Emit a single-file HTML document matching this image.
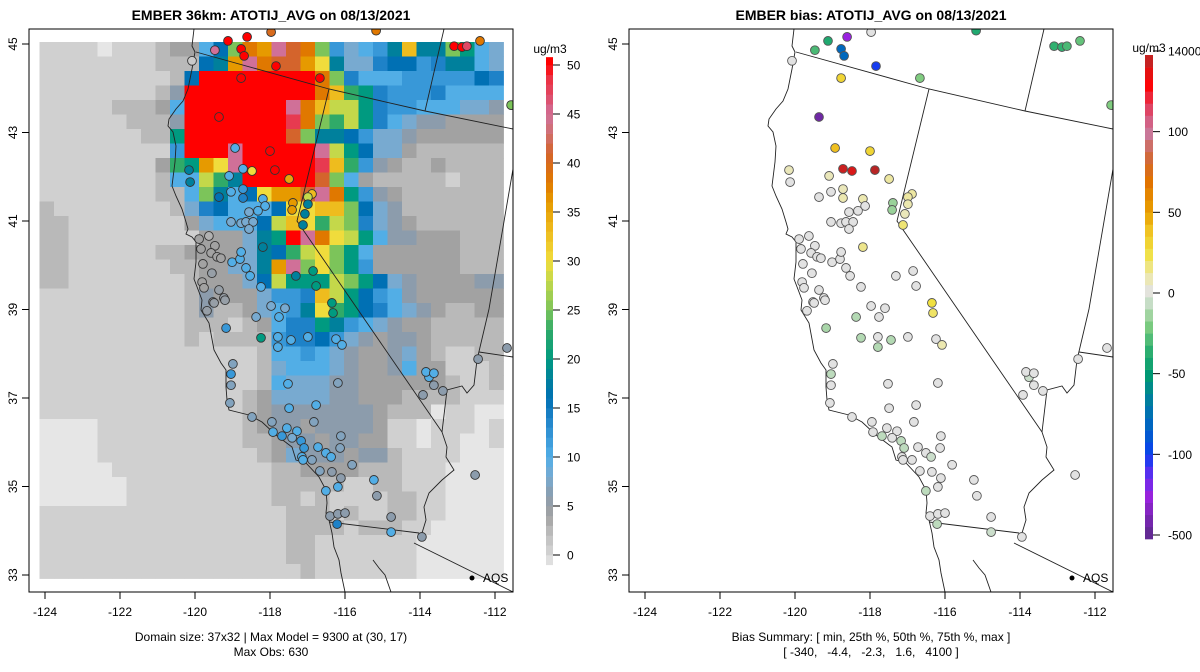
<!DOCTYPE html>
<html><head><meta charset="utf-8"><title>EMBER ATOTIJ_AVG</title>
<style>
html,body{margin:0;padding:0;background:#fff;}
svg{display:block;font-family:"Liberation Sans",Arial,sans-serif;}
</style></head>
<body>
<svg id="chart" width="1200" height="672" viewBox="0 0 1200 672" xmlns="http://www.w3.org/2000/svg">
<defs>
<clipPath id="clipL"><rect x="29" y="29" width="484" height="563"/></clipPath>
<clipPath id="clipR"><rect x="629" y="29" width="484" height="563"/></clipPath>
</defs>
<rect width="1200" height="672" fill="#fff"/>
<g id="left"></g>
<g id="right"></g>
<g id="axes"></g>
<g id="cbars"></g>
<text x="271" y="20" text-anchor="middle" font-size="14" font-weight="bold">EMBER 36km: ATOTIJ_AVG on 08/13/2021</text>
<text x="871" y="20" text-anchor="middle" font-size="14" font-weight="bold">EMBER bias: ATOTIJ_AVG on 08/13/2021</text>
<text x="271" y="641" text-anchor="middle" font-size="12">Domain size: 37x32 | Max Model = 9300 at (30, 17)</text>
<text x="271" y="656" text-anchor="middle" font-size="12">Max Obs: 630</text>
<text x="871" y="641" text-anchor="middle" font-size="12">Bias Summary: [ min, 25th %, 50th %, 75th %, max ]</text>
<text x="871" y="656" text-anchor="middle" font-size="12" xml:space="preserve" style="white-space:pre">[ -340,   -4.4,   -2.3,   1.6,   4100 ]</text>
</svg>
<script>
// ---- data ----
const gridLevels = {a:-1,b:0.5,c:2.5,d:4,e:6,f:8,g:10,h:12,i:14,j:16,k:18,l:20,m:23,n:25,o:28,p:30,q:33,r:36,s:38,t:41,u:45,v:48,w:51};
const gridRows = [
"bbbbabbbcddgjnsrutsnhfghkqkknlgf",
"bbbbbbbbcccjkrusttrpkffijjhikkgf",
"bbbbbbbbbcjwwwwwwwwsniggghhhhhjif",
"bbbbbbbbcewwwwwwwwwsqmlihhhigggg",
"bbbbbcccdgwwwwwwwusqoolihhgggffe",
"bbbbbbcccewwwwwwwvsnmoligfeedddd",
"bbbbbbbcclwwwwwwwtnkkjhffedddddd",
"bbbbbbbbbhwwwuwwwwwuoljffdcccccc",
"bbbbbbbbdmlrpuwwwwwvqmhedccdcccc",
"bbbbbbbbcggomkwwwwwtngdcccccbccc",
"bbbbbbbbccgnkgjprrtuslhedccccccc",
"cbbbbbbbbcfijgggjppqqnjfeccccccc",
"ccbbbbbbbbdfgggjoqpmonifedcccccc",
"ccbbbbbbbbbdddfklwuspolgeedddccc",
"ccbbbbbbccddddfkjmopnlgddddddcccc",
"ccbbbbbbbccddffkrunpnlhddddddccc",
"ccbbbbbbbbcdddfjolllonljfeddddee",
"bbbbbbbbbbcedddfhhiqoljhgedddddde",
"bbbbbbbbbbceccdfghkpmljigfedccdd",
"bbbbbbbbbbcccbcdgiilkhgfeddccccc",
"bbbbbbbbbbcbcccchiijhfedeedccccc",
"bbbbbbbbbbbbbbbcgghgfeddefdcbbcc",
"bbbbbbbbbbbbbbbcfgggfeddegddbbbc",
"bbbbbbbbbbbbbbbcgfffeeddddddcbbc",
"bbbbbbbbbbbbbbcdffffeedddccccbbb",
"bbbbbbbbbbbbbbcdeeeeeeedcccabbaa",
"aaaabbbbbbbbbbcdeedeeeedbbabbbab",
"aaaabbbbbbbbbbccdeedeeddbbabbaab",
"aaaabbbbbbbbbbbcdfeeedeecbbbbaaa",
"aaaaabbbbbbbbbbbccddddcccbbbaaaa",
"aaaaaabbbbbbbbbbcccccbbccbbbaaaa",
"aaaaaabbbbbbbbbbccbcbbbbccbbaaaa",
"bbbbbbbbbbbbbbbbbcccbcbbccbbaaaa",
"bbbbbbbbbbbbbbbbbccccbcccbbaaaaa",
"bbbbbbbbbbbbbbbbbccbbbbbbbaaaaaa",
"bbbbbbbbbbbbbbbbbccbbbbbbbaaaaaa",
"bbbbbbbbbbbbbbbbbbcbbbbbbbaaaaaa"
];
const stLon = [-118.61,-117.97,-119.12,-119.47,-118.77,-118.69,-117.84,-120.08,-116.67,-118.77,-115.17,-113.09,-112.88,-112.75,-112.40,-111.57,-119.36,-118.93,-118.00,-118.72,-118.48,-117.87,-120.16,-120.13,-119.09,-117.49,-119.36,-119.04,-118.72,-118.72,-118.19,-118.13,-118.32,-118.56,-119.04,-118.77,-118.64,-118.45,-118.56,-117.39,-117.41,-116.88,-116.99,-116.99,-117.07,-117.12,-119.89,-119.63,-119.84,-119.47,-119.57,-119.41,-119.31,-119.79,-119.55,-119.81,-119.76,-119.36,-119.23,-119.52,-119.01,-118.80,-118.77,-118.19,-118.64,-118.53,-118.24,-117.97,-117.60,-117.31,-116.85,-116.77,-116.35,-119.68,-119.49,-119.20,-117.76,-116.32,-118.37,-119.17,-118.24,-117.79,-117.44,-117.79,-116.99,-116.24,-116.08,-118.99,-119.04,-119.04,-119.07,-117.52,-116.19,-116.77,-117.49,-116.83,-118.48,-117.95,-117.92,-117.55,-117.28,-117.68,-117.41,-117.17,-117.09,-117.15,-117.12,-116.88,-116.72,-116.51,-116.37,-116.11,-116.13,-115.81,-116.67,-116.35,-116.11,-116.19,-115.23,-115.15,-116.51,-116.40,-116.19,-116.00,-116.21,-114.77,-114.77,-113.95,-113.92,-113.76,-113.84,-113.63,-113.63,-113.39,-112.45,-111.68,-112.53];
const stLat = [45.16,45.27,45.07,44.86,44.89,44.73,44.50,44.62,44.23,44.23,45.30,44.95,44.93,44.95,45.07,43.62,43.35,42.65,42.58,42.18,42.13,42.15,42.15,41.88,42.02,41.95,41.54,41.66,41.72,41.52,41.50,41.34,41.23,41.20,40.98,40.95,40.98,40.98,40.82,41.41,41.25,41.61,41.54,41.38,41.16,40.91,40.59,40.66,40.37,40.44,40.28,40.19,40.16,40.03,39.82,39.62,39.49,39.44,39.26,39.17,40.07,40.14,40.30,40.41,39.94,39.76,39.51,39.08,39.03,39.76,39.87,39.53,39.15,38.97,39.15,39.21,38.83,38.92,38.83,38.58,38.36,38.38,38.31,38.15,38.38,38.33,38.20,37.77,37.54,37.29,36.89,37.32,37.34,36.84,36.77,36.46,36.57,36.46,36.23,36.32,36.25,36.14,36.10,36.03,35.87,35.67,35.60,35.60,35.89,35.76,35.67,36.14,35.87,35.49,35.35,35.33,35.19,34.99,35.15,34.79,34.90,34.33,34.38,34.40,34.15,34.31,33.97,33.86,37.07,37.47,37.59,37.56,37.29,37.16,37.88,38.13,35.26];
const stObs = [50,40,50,45,50,50,50,1,50,50,38,50,50,47,38,25,50,10,50,10,30,50,18,18,10,35,16,10,12,14,10,10,10,8,8,8,8,8,8,36,36,33,28,18,18,18,4,3,4,4,4,4,4,4,5,4,4,5,5,5,10,10,10,18,10,10,10,8,8,18,20,20,20,5,5,5,10,20,8,12,20,10,10,10,10,10,10,7,12,7,7,10,7,10,10,7,7,7,10,10,10,12,8,12,12,10,10,7,10,10,10,7,7,7,7,6,6,10,10,6,10,6,6,6,14,6,10,6,6,10,10,10,6,6,6,6,6];
const stBias = [-300,0,-40,-30,-80,-80,-115,0,-20,30,-40,-35,-35,-30,-25,-20,-450,40,30,12000,11000,13000,8,0,8,12,0,0,8,10,10,0,0,0,0,0,0,0,0,-15,-15,12,12,10,8,18,0,0,0,0,0,0,0,0,0,0,0,0,0,0,0,0,0,15,0,0,0,0,0,0,0,0,25,0,0,0,0,20,-10,-12,-10,0,-10,-10,0,0,10,0,-8,0,0,0,0,0,0,0,0,0,0,0,0,-8,0,-8,-8,0,0,0,0,0,-5,0,0,0,0,0,0,0,0,0,-8,0,0,0,-8,0,-5,0,0,-5,0,0,0,0,0,0,0];
const lonTicks = [-124,-122,-120,-118,-116,-114,-112];
const latTicks = [33,35,37,39,41,43,45];
const obsTicks = [0,5,10,15,20,25,30,35,40,45,50];
const biasTicks = [-500,-100,-50,0,50,100,14000];
const biasTickLabels = ["-500","-100","-50","0","50","100","14000"];

// ---- scales ----
const NS="http://www.w3.org/2000/svg";
function xLon(lon, off){ return off + 45 + (lon+124)*37.5; }
function yLat(lat){ return 575 - (lat-33)*44.25; }
const cell = 14.5, gx0 = 39.5, gy0 = 42;
function gx(c){ return gx0 + c*cell; }
function gy(r){ return gy0 + r*cell; }
const obsStops=[[-1,"#e6e6e6"],[0.5,"#d0d0d0"],[2.5,"#b9b9b9"],[4,"#a2a2a2"],[6,"#8c9cac"],[8,"#78aad0"],[10,"#52aee6"],[12,"#3898d8"],[14,"#1e82c8"],[16,"#0070b4"],[18,"#00809c"],[20,"#009a80"],[23,"#30aa68"],[25,"#7cc45a"],[28,"#c4d84a"],[30,"#f0dc3c"],[33,"#eebc1e"],[36,"#e69a00"],[38,"#e07800"],[41,"#d4642c"],[43,"#d07070"],[45,"#d07098"],[47,"#e04864"],[49,"#ee2c3c"],[50,"#ff0000"]];
const biasStops=[[0,"#602a90"],[0.5,"#9a22e0"],[0.8,"#5030f0"],[1,"#0a40f0"],[1.3,"#0060c8"],[1.6,"#0078a8"],[2,"#009a70"],[2.3,"#30b070"],[2.6,"#80cc80"],[2.85,"#c0dcc0"],[3,"#e2e2e2"],[3.2,"#ece8b0"],[3.5,"#f0e040"],[3.8,"#f0c020"],[4,"#e8a000"],[4.4,"#e07000"],[4.7,"#d06840"],[5,"#c878a0"],[5.3,"#e04060"],[5.6,"#ff0000"],[5.85,"#cc2020"],[6,"#a52a2a"]];
function hex(c){return [parseInt(c.substr(1,2),16),parseInt(c.substr(3,2),16),parseInt(c.substr(5,2),16)];}
function interp(stops,v){
  if(v<=stops[0][0]) return stops[0][1];
  if(v>=stops[stops.length-1][0]) return stops[stops.length-1][1];
  for(let i=1;i<stops.length;i++){ if(v<=stops[i][0]){ const a=stops[i-1],b=stops[i]; const t=(v-a[0])/(b[0]-a[0]); const A=hex(a[1]),B=hex(b[1]); return "rgb("+A.map((x,k)=>Math.round(x+(B[k]-x)*t)).join(",")+")"; } }
}
function obsColor(v){ return interp(obsStops,v); }
function biasPos(v){
  if(v<=biasTicks[0]) return 0;
  for(let i=1;i<biasTicks.length;i++){ if(v<=biasTicks[i]) return (i-1)+(v-biasTicks[i-1])/(biasTicks[i]-biasTicks[i-1]); }
  return 6;
}
function biasColor(v){ return interp(biasStops,biasPos(v)); }
function el(tag,attrs,parent){ const e=document.createElementNS(NS,tag); for(const k in attrs) e.setAttribute(k,attrs[k]); parent.appendChild(e); return e; }

// ---- grid (left) ----
const L=document.getElementById('left'), R=document.getElementById('right');
const gGrid=el('g',{'clip-path':'url(#clipL)'},L);


for(let r=0;r<gridRows.length;r++){
  const row=gridRows[r].replace(/[^a-w]/g,'b');
  for(let c=0;c<32;c++){
    const ch=row[c]||'b'; const v=gridLevels[ch];
    const rc=el('rect',{x:gx(c).toFixed(2),y:gy(r).toFixed(2),width:cell+0.4,height:cell+0.4,fill:obsColor(v)},gGrid);
    
    
  }
}
// ---- outlines ----
const coast=[[165,29],[163,46],[166,52],[163,69],[159,89],[154,101],[147,109],[140,119],[139,126],[144,132],[147,146],[146,162],[143,186],[147,196],[153,209],[157,222],[159,229],[157,234],[163,237],[167,242],[167,262],[165,279],[170,292],[173,300],[172,310],[180,323],[185,350],[192,363],[197,370],[197,387],[198,400],[200,410],[220,415],[233,422],[247,435],[263,447],[267,460],[277,463],[290,477],[297,490],[298,503],[297,513],[300,520],[303,533],[305,547],[310,560],[312,573],[316,592]];
const borders=[coast,[[167,52],[300,89],[396,111],[484,129]],[[300,89],[268,221],[413,432]],[[413,432],[418,447],[417,457],[425,470],[413,480],[400,493],[395,507],[397,520],[393,533],[390,537]],[[413,432],[418,390],[433,386],[438,393],[445,385],[448,360],[460,309],[484,169]],[[450,352],[484,357]],[[396,111],[415,29]],[[300,522],[390,533]],[[385,543],[484,592]],[[344,560],[350,568],[356,575],[362,592]]];
function drawOutlines(parent,off,clip){
  const g=el('g',{'clip-path':clip,fill:'none',stroke:'#222','stroke-width':0.9},parent);
  
  
  borders.forEach(b=>{ const p=el('polyline',{points:b.map(q=>(q[0]+off)+','+q[1]).join(' ')},g);
    
     });
}
drawOutlines(L,29,'url(#clipL)');
drawOutlines(R,629,'url(#clipR)');
// ---- stations ----
function drawStations(parent,off,clip,colorFn,vals,stroke,name){
  const g=el('g',{'clip-path':clip},parent);
  
  
  for(let i=0;i<stLon.length;i++){
    const c=el('circle',{cx:xLon(stLon[i],off).toFixed(1),cy:yLat(stLat[i]).toFixed(1),r:4.4,fill:colorFn(vals[i]),stroke:stroke,'stroke-width':0.9},g);
    
    
  }
}
drawStations(L,0,'url(#clipL)',obsColor,stObs,'#333','obs-stations');
drawStations(R,600,'url(#clipR)',biasColor,stBias,'#555','bias-stations');
// AQS legend
[29,629].forEach((off,k)=>{
  const d=el('circle',{cx:off+443,cy:578,r:2.5,fill:'#000'},k?R:L);
  
  
  const t=el('text',{x:off+454,y:582,'font-size':12},k?R:L); t.textContent='AQS';
  
  
});
// ---- axes ----
const A=document.getElementById('axes');
[0,600].forEach(off=>{
  const b=el('rect',{x:29+off,y:29,width:484,height:563,fill:'none',stroke:'#000','stroke-width':1},A);
  
  
  lonTicks.forEach(v=>{
    const x=xLon(v,off);
    const l=el('line',{x1:x,x2:x,y1:592,y2:599,stroke:'#000'},A);
    
    
    const t=el('text',{x:x,y:616,'text-anchor':'middle','font-size':12},A); t.textContent=String(v);
    
    
  });
  latTicks.forEach(v=>{
    const y=yLat(v);
    const l=el('line',{x1:22+off,x2:29+off,y1:y,y2:y,stroke:'#000'},A);
    
    
    const t=el('text',{x:0,y:0,'text-anchor':'middle','font-size':12,transform:'translate('+(17+off)+','+y+') rotate(-90)'},A); t.textContent=String(v);
    
    
  });
});
// ---- colorbars ----
const C=document.getElementById('cbars');
function obsY(v){ return 65+(50-v)*9.8; }
for(let v=-1;v<50.8;v+=1){
  const y1=obsY(Math.min(v+1,50.8)), y0=obsY(v);
  const s=el('rect',{x:546,y:y1,width:7,height:(y0-y1)+0.3,fill:obsColor(v+0.5)},C);
  
  
}
obsTicks.forEach(v=>{
  const y=obsY(v);
  const l=el('line',{x1:553,x2:560,y1:y,y2:y,stroke:'#000'},C);
  
  
  const t=el('text',{x:567,y:y+4.5,'font-size':12},C); t.textContent=String(v);
  
  
});
function biasY(p){ return 535-p*80.67; }
for(let i=0;i<40;i++){
  const p0=-0.05+i*0.15, p1=p0+0.15;
  const s=el('rect',{x:1145,y:biasY(p1),width:8,height:(biasY(p0)-biasY(p1))+0.3,fill:interp(biasStops,(p0+p1)/2)},C);
  
  
}
biasTicks.forEach((v,i)=>{
  const y=biasY(biasPos(v));
  const l=el('line',{x1:1153,x2:1160,y1:y,y2:y,stroke:'#000'},C);
  
  
  const t=el('text',{x:1168,y:y+4.5,'font-size':12},C); t.textContent=biasTickLabels[i];
  
  
});
const u1=el('text',{x:550,y:53,'text-anchor':'middle','font-size':12},C); u1.textContent='ug/m3';


const u2=el('text',{x:1149,y:52,'text-anchor':'middle','font-size':12},C); u2.textContent='ug/m3';


</script>
</body></html>
